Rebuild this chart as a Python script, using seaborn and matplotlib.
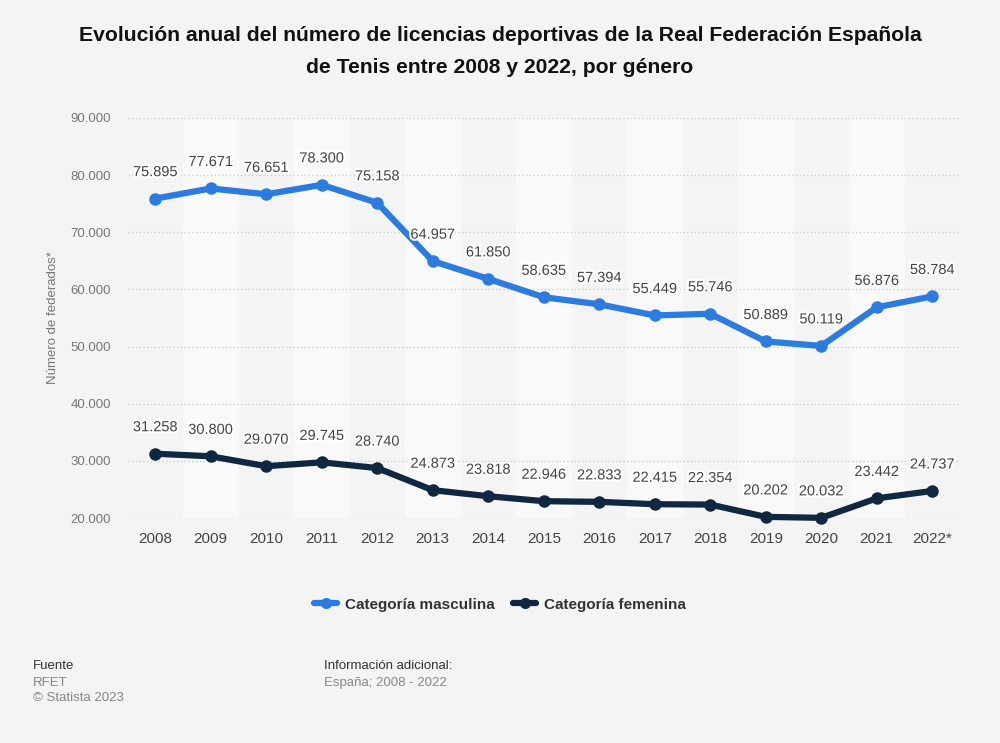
import matplotlib
matplotlib.use("Agg")
import matplotlib.pyplot as plt
import matplotlib.patheffects as pe
from matplotlib.lines import Line2D
import seaborn as sns
import pandas as pd

years = ["2008", "2009", "2010", "2011", "2012", "2013", "2014", "2015",
         "2016", "2017", "2018", "2019", "2020", "2021", "2022*"]
masculina = [75895, 77671, 76651, 78300, 75158, 64957, 61850, 58635,
             57394, 55449, 55746, 50889, 50119, 56876, 58784]
femenina = [31258, 30800, 29070, 29745, 28740, 24873, 23818, 22946,
            22833, 22415, 22354, 20202, 20032, 23442, 24737]
series_names = ["Categoría masculina", "Categoría femenina"]
yticks = [20000, 30000, 40000, 50000, 60000, 70000, 80000, 90000]

colors = ["#2b7be0", "#0f2741"]
bg = "#f4f4f4"

sns.set_theme(style="white")
plt.rcParams['font.family'] = ['Liberation Sans', 'DejaVu Sans']

df = pd.DataFrame({
    "idx": list(range(len(years))) * 2,
    "value": masculina + femenina,
    "serie": [series_names[0]] * len(years) + [series_names[1]] * len(years),
})

fig = plt.figure(figsize=(10, 7.43), dpi=100)
fig.patch.set_facecolor(bg)
ax = fig.add_axes([0.1275, 0.3028, 0.8325, 0.5384])
ax.set_facecolor(bg)

# alternating column bands
for i in range(len(years)):
    if i % 2 == 1:
        ax.axvspan(i - 0.5, i + 0.5, color="#f9f9f9", zorder=0, lw=0)

sns.lineplot(data=df, x="idx", y="value", hue="serie", palette=colors,
             marker="o", markersize=9, markeredgewidth=0, linewidth=4.5,
             ax=ax, legend=False, zorder=3, clip_on=False)

ax.set_xlim(-0.5, len(years) - 0.5)
ax.set_ylim(20000, 90000)
ax.set_yticks(yticks)
ax.set_yticklabels([f"{v:,}".replace(",", ".") for v in yticks],
                   color="#777777", fontsize=9.5)
ax.set_xticks(range(len(years)))
ax.set_xticklabels(years, color="#444444", fontsize=11)
ax.tick_params(axis="both", length=0)
ax.tick_params(axis="y", pad=12)
ax.tick_params(axis="x", pad=10)
for yv in yticks:
    ax.axhline(yv, color="#c8c8c8", lw=0.9, ls=(0, (1, 2)), zorder=1)
for s in ax.spines.values():
    s.set_visible(False)
ax.set_xlabel("")
ax.set_ylabel("Número de federados*", color="#777777", fontsize=9.5, labelpad=8)

# data labels
for vals in (masculina, femenina):
    for i, v in enumerate(vals):
        ax.annotate(f"{v:,}".replace(",", "."), (i, v), xytext=(0, 14),
                    textcoords="offset points", ha="center", va="bottom",
                    fontsize=10.5, color="#444444", zorder=5,
                    path_effects=[pe.withStroke(linewidth=3, foreground="white")])

# title
fig.text(0.5, 0.952, "Evolución anual del número de licencias deportivas de la Real Federación Española",
         ha="center", va="center", fontsize=15.2, fontweight="bold", color="#111111")
fig.text(0.5, 0.909, "de Tenis entre 2008 y 2022, por género",
         ha="center", va="center", fontsize=15.2, fontweight="bold", color="#111111")

# legend
handles = [Line2D([0], [0], color=c, lw=4.5, marker="o", markersize=8, markeredgewidth=0)
           for c in colors]
leg = fig.legend(handles, series_names, loc="center", bbox_to_anchor=(0.5, 0.186),
                 ncol=2, frameon=False, handlelength=1.5, columnspacing=1.2,
                 handletextpad=0.5, prop={"weight": "bold", "size": 11})
for t in leg.get_texts():
    t.set_color("#333333")

# footer
fig.text(0.033, 0.104, "Fuente", fontsize=9.5, color="#333333", va="center")
fig.text(0.033, 0.081, "RFET", fontsize=9.5, color="#888888", va="center")
fig.text(0.033, 0.060, "© Statista 2023", fontsize=9.5, color="#888888", va="center")
fig.text(0.324, 0.104, "Información adicional:", fontsize=9.5, color="#333333", va="center")
fig.text(0.324, 0.081, "España; 2008 - 2022", fontsize=9.5, color="#888888", va="center")

fig.savefig("out.png", dpi=100, facecolor=bg)
